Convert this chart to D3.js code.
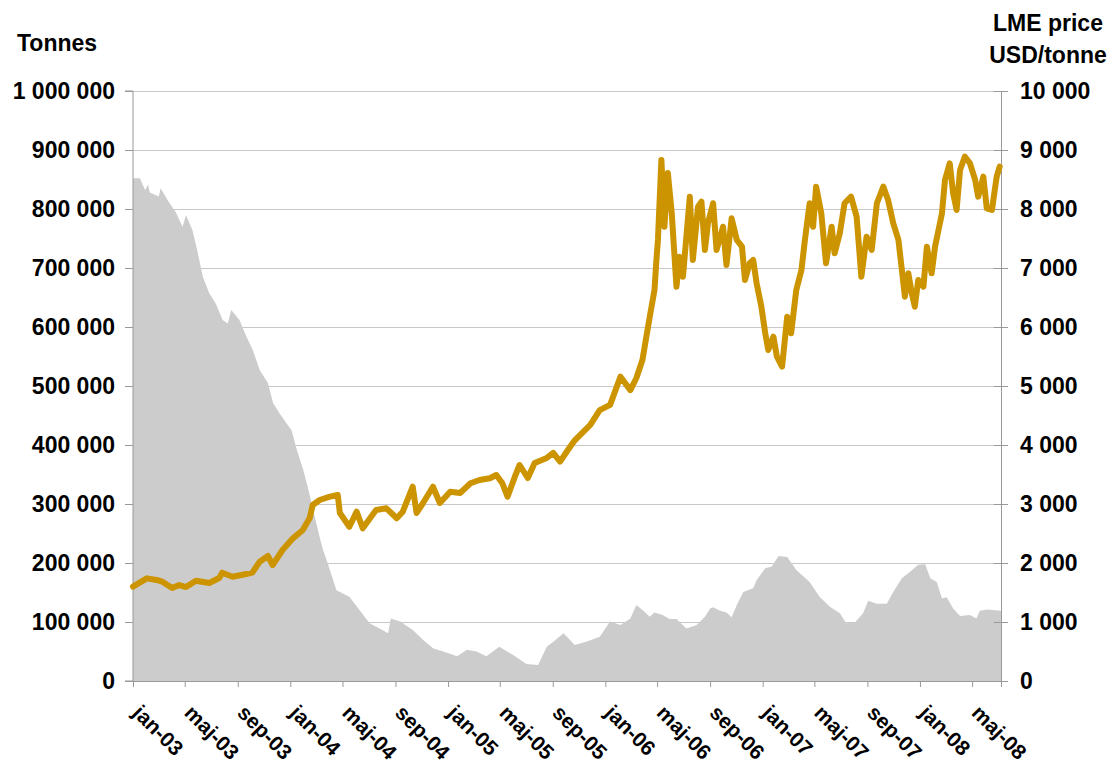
<!DOCTYPE html>
<html>
<head>
<meta charset="utf-8">
<script src="https://cdn.jsdelivr.net/npm/d3@7"></script>
<style>
  html, body { margin: 0; padding: 0; background: #ffffff; }
  svg { display: block; }
  text { font-family: "Liberation Sans", Arial, sans-serif; font-weight: bold; fill: #000; }
</style>
</head>
<body>
<svg id="chart" width="1110" height="763"></svg>
<script>
// ---------- DATA ----------
const stockDates = ["2003-01-01","2003-01-17","2003-01-29","2003-02-05","2003-02-09","2003-03-02","2003-03-06","2003-03-25","2003-04-10","2003-04-26","2003-05-04","2003-05-19","2003-05-30","2003-06-12","2003-06-27","2003-07-12","2003-07-28","2003-08-09","2003-08-17","2003-09-05","2003-09-21","2003-10-06","2003-10-22","2003-11-10","2003-11-22","2003-12-07","2003-12-23","2004-01-04","2004-01-16","2004-01-31","2004-02-12","2004-02-23","2004-03-09","2004-03-17","2004-03-28","2004-04-17","2004-05-17","2004-06-10","2004-07-03","2004-07-26","2004-08-15","2004-08-21","2004-09-12","2004-10-12","2004-11-05","2004-11-28","2004-12-21","2005-01-22","2005-02-14","2005-03-08","2005-03-31","2005-04-30","2005-06-01","2005-07-02","2005-07-29","2005-08-18","2005-09-03","2005-09-26","2005-10-22","2005-11-19","2005-12-19","2006-01-12","2006-02-05","2006-02-28","2006-03-14","2006-03-29","2006-04-14","2006-04-25","2006-05-14","2006-05-30","2006-06-15","2006-07-08","2006-08-01","2006-08-20","2006-09-01","2006-09-08","2006-09-24","2006-10-09","2006-10-21","2006-11-02","2006-11-17","2006-12-10","2006-12-18","2007-01-07","2007-01-22","2007-02-07","2007-02-27","2007-03-20","2007-04-20","2007-05-13","2007-06-06","2007-06-29","2007-07-14","2007-08-03","2007-08-22","2007-09-03","2007-09-23","2007-10-16","2007-10-31","2007-11-20","2007-12-09","2007-12-28","2008-01-13","2008-01-25","2008-02-09","2008-02-21","2008-03-03","2008-03-18","2008-04-03","2008-04-26","2008-05-11","2008-05-19","2008-06-04","2008-07-07"];
const stockValues = [852000,852000,832000,841000,828000,821000,835000,812000,795000,770000,790000,764000,730000,685000,657000,640000,612000,606000,629000,612000,584000,561000,527000,505000,471000,454000,437000,425000,392000,358000,324000,290000,244000,222000,199000,154000,143000,120000,98000,89000,81000,106000,101000,86000,69000,55000,50000,42000,53000,50000,42000,58000,44000,29000,27000,58000,67000,81000,61000,67000,75000,101000,95000,106000,129000,120000,109000,116000,112000,105000,105000,89000,95000,109000,123000,125000,119000,116000,108000,129000,151000,157000,171000,191000,194000,212000,210000,188000,168000,143000,126000,115000,98000,99000,115000,136000,131000,131000,151000,174000,185000,197000,198000,174000,168000,140000,142000,123000,110000,112000,106000,119000,121000,119000];

const priceDates = ["2003-01-01","2003-02-02","2003-02-25","2003-03-10","2003-04-02","2003-04-18","2003-05-04","2003-05-27","2003-06-27","2003-07-20","2003-07-27","2003-08-20","2003-09-21","2003-10-05","2003-10-22","2003-11-10","2003-11-21","2003-12-14","2004-01-07","2004-01-30","2004-02-15","2004-02-22","2004-03-09","2004-04-02","2004-04-20","2004-04-25","2004-05-17","2004-06-03","2004-06-17","2004-07-18","2004-08-11","2004-09-04","2004-09-18","2004-10-11","2004-10-20","2004-11-04","2004-11-27","2004-12-13","2005-01-06","2005-01-29","2005-02-22","2005-03-15","2005-04-08","2005-04-23","2005-05-07","2005-05-19","2005-06-05","2005-06-16","2005-07-05","2005-07-21","2005-08-18","2005-09-02","2005-09-18","2005-10-06","2005-10-22","2005-11-27","2005-12-19","2006-01-12","2006-02-05","2006-02-28","2006-03-14","2006-03-28","2006-04-14","2006-04-25","2006-04-29","2006-05-03","2006-05-11","2006-05-18","2006-05-26","2006-06-04","2006-06-15","2006-06-22","2006-06-30","2006-07-16","2006-07-23","2006-08-04","2006-08-12","2006-08-20","2006-08-27","2006-09-08","2006-09-16","2006-10-01","2006-10-09","2006-10-21","2006-11-02","2006-11-14","2006-11-21","2006-12-02","2006-12-10","2006-12-18","2006-12-29","2007-01-07","2007-01-14","2007-01-26","2007-02-03","2007-02-15","2007-02-27","2007-03-08","2007-03-20","2007-04-01","2007-04-09","2007-04-20","2007-04-28","2007-05-05","2007-05-17","2007-05-28","2007-06-10","2007-06-17","2007-06-29","2007-07-10","2007-07-25","2007-08-07","2007-08-18","2007-08-30","2007-09-11","2007-09-23","2007-10-08","2007-10-19","2007-10-31","2007-11-12","2007-11-20","2007-11-27","2007-12-05","2007-12-13","2007-12-20","2007-12-28","2008-01-09","2008-01-17","2008-01-28","2008-02-05","2008-02-13","2008-02-21","2008-02-28","2008-03-10","2008-03-18","2008-03-26","2008-04-03","2008-04-14","2008-04-26","2008-05-08","2008-05-15","2008-05-27","2008-06-04","2008-06-16","2008-06-27","2008-07-04"];
const priceValues = [1600,1740,1712,1683,1576,1627,1593,1700,1661,1746,1836,1768,1814,1836,2022,2119,1966,2220,2418,2559,2763,2983,3068,3124,3153,2848,2615,2870,2588,2898,2927,2758,2870,3293,2848,3017,3293,3017,3209,3187,3351,3407,3436,3492,3351,3124,3463,3661,3441,3695,3780,3865,3717,3915,4080,4340,4590,4680,5158,4930,5136,5441,6175,6627,7085,7475,8831,7700,8610,7932,6683,7192,6853,8209,7136,8040,8124,7305,7758,8097,7305,7700,7051,7842,7475,7362,6797,7080,7136,6741,6344,5893,5610,5836,5497,5327,6175,5893,6627,6966,7475,8097,7700,8379,7927,7080,7700,7249,7588,8097,8209,7870,6853,7531,7305,8097,8379,8153,7758,7475,6966,6514,6910,6571,6344,6797,6683,7362,6910,7362,7644,7927,8492,8775,8266,7983,8661,8887,8775,8492,8209,8548,8011,7983,8548,8718];

const xTickDates  = ["2003-01-01","2003-05-01","2003-09-01","2004-01-01","2004-05-01","2004-09-01","2005-01-01","2005-05-01","2005-09-01","2006-01-01","2006-05-01","2006-09-01","2007-01-01","2007-05-01","2007-09-01","2008-01-01","2008-05-01"];
const xTickLabels = ["jan-03","maj-03","sep-03","jan-04","maj-04","sep-04","jan-05","maj-05","sep-05","jan-06","maj-06","sep-06","jan-07","maj-07","sep-07","jan-08","maj-08"];
const leftTicks  = [0,100000,200000,300000,400000,500000,600000,700000,800000,900000,1000000];
const rightTicks = [0,1000,2000,3000,4000,5000,6000,7000,8000,9000,10000];
const domainStart = "2003-01-01", domainEnd = "2008-07-07";

// ---------- CHART ----------
const parse = d3.timeParse("%Y-%m-%d");
const svg = d3.select("#chart");
const L = 133, R = 1001, T = 91, B = 681;

const x = d3.scaleTime().domain([parse(domainStart), parse(domainEnd)]).range([L, R]);
const yL = d3.scaleLinear().domain([0, 1000000]).range([B, T]);
const yR = d3.scaleLinear().domain([0, 10000]).range([B, T]);

const loc = d3.formatLocale({decimal: ",", thousands: " ", grouping: [3], currency: ["", ""]});
const fmt = loc.format(",d");

// gridlines
svg.append("g").selectAll("line").data(leftTicks.filter(d => d > 0)).join("line")
  .attr("x1", L).attr("x2", R).attr("y1", d => yL(d)).attr("y2", d => yL(d))
  .attr("stroke", "#c8c8c8").attr("stroke-width", 1).attr("shape-rendering", "crispEdges");

// stock area
const stocks = stockDates.map((d, i) => ({date: parse(d), v: stockValues[i]}));
svg.append("path").datum(stocks)
  .attr("fill", "#cccccc")
  .attr("d", d3.area().x(d => x(d.date)).y0(B).y1(d => yL(d.v)));

// left axis
const gL = svg.append("g").attr("transform", `translate(${L},0)`)
  .call(d3.axisLeft(yL).tickValues(leftTicks).tickFormat(fmt).tickSize(8).tickPadding(10));
gL.select(".domain").attr("stroke", "#999").attr("d", `M-8,${T}H0V${B}H-8`);
gL.selectAll(".tick line").attr("stroke", "#999");
gL.selectAll(".tick text").attr("font-size", 23).attr("font-family", "Liberation Sans, Arial, sans-serif").attr("font-weight", "bold").attr("fill", "#000");

// right axis
const gR = svg.append("g").attr("transform", `translate(${R},0)`)
  .call(d3.axisRight(yR).tickValues(rightTicks).tickFormat(fmt).tickSize(7).tickPadding(12));
gR.select(".domain").attr("stroke", "#999");
gR.selectAll(".tick line").attr("stroke", "#999").attr("x1", -7);
gR.selectAll(".tick text").attr("font-size", 23).attr("font-family", "Liberation Sans, Arial, sans-serif").attr("font-weight", "bold").attr("fill", "#000");

// bottom axis
const gB = svg.append("g").attr("transform", `translate(0,${B})`)
  .call(d3.axisBottom(x).tickValues(xTickDates.map(parse)).tickFormat((d, i) => xTickLabels[i]).tickSize(6));
gB.select(".domain").attr("stroke", "#999");
gB.selectAll(".tick line").attr("stroke", "#999");
gB.selectAll(".tick text")
  .attr("font-size", 21).attr("font-family", "Liberation Sans, Arial, sans-serif").attr("font-weight", "bold").attr("fill", "#000")
  .attr("text-anchor", "start").attr("y", 0).attr("dy", 0)
  .attr("transform", "translate(-2,33) rotate(45)");

// price line
const prices = priceDates.map((d, i) => ({date: parse(d), v: priceValues[i]}));
svg.append("path").datum(prices)
  .attr("fill", "none").attr("stroke", "#cc9400").attr("stroke-width", 6)
  .attr("stroke-linejoin", "round").attr("stroke-linecap", "round")
  .attr("d", d3.line().x(d => x(d.date)).y(d => yR(d.v)));

// titles
svg.append("text").attr("x", 17).attr("y", 51).attr("font-size", 23).text("Tonnes");
svg.append("text").attr("x", 1048).attr("y", 31).attr("font-size", 23).attr("text-anchor", "middle").text("LME price");
svg.append("text").attr("x", 1048).attr("y", 63).attr("font-size", 23).attr("text-anchor", "middle").text("USD/tonne");
</script>
</body>
</html>
